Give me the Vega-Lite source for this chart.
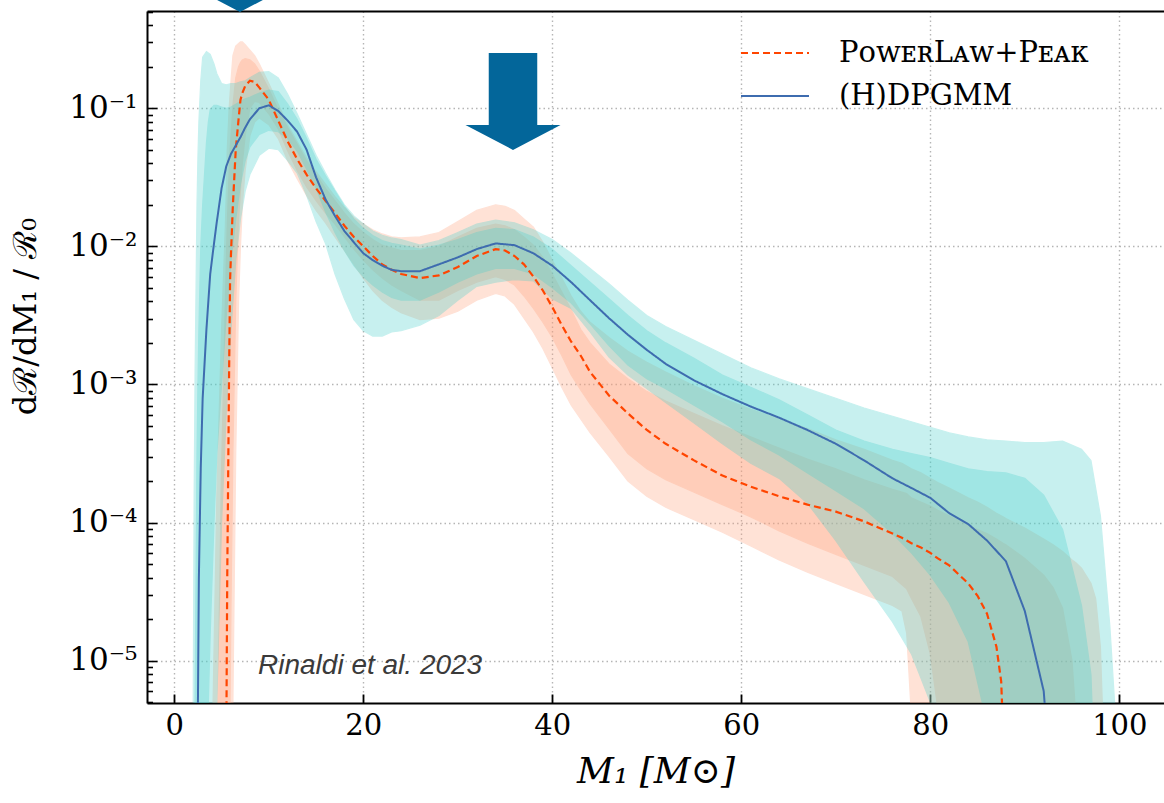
{
  "$schema": "https://vega.github.io/schema/vega-lite/v6.json",
  "width": 1017,
  "height": 692,
  "autosize": {"type": "none"},
  "padding": {"left": 147, "top": 11, "right": 0, "bottom": 100},
  "background": "white",
  "config": {"view": {"stroke": null}, "font": "DejaVu Serif"},
  "datasets": {
    "dp": [
      {"M":1.9,"med":1e-7,"lo50":1e-7,"hi50":1e-7,"lo90":1e-7,"hi90":1e-7},
      {"M":2.0,"med":1e-7,"lo50":1e-7,"hi50":1e-7,"lo90":1e-7,"hi90":5.01e-6},
      {"M":2.1,"med":1e-7,"lo50":1e-7,"hi50":1e-7,"lo90":1e-7,"hi90":1.58e-4},
      {"M":2.2,"med":1e-7,"lo50":1e-7,"hi50":5.01e-6,"lo90":1e-7,"hi90":1.26e-3},
      {"M":2.4,"med":1e-6,"lo50":1e-7,"hi50":3.16e-4,"lo90":1e-7,"hi90":2.0e-2},
      {"M":2.5,"med":5.01e-6,"lo50":1e-7,"hi50":1e-3,"lo90":1e-7,"hi90":4.47e-2},
      {"M":2.6,"med":3.98e-5,"lo50":1e-7,"hi50":2.51e-3,"lo90":1e-7,"hi90":7.94e-2},
      {"M":2.8,"med":2.51e-4,"lo50":1e-7,"hi50":1e-2,"lo90":1e-7,"hi90":0.158},
      {"M":3.0,"med":7.94e-4,"lo50":1e-7,"hi50":2.0e-2,"lo90":1e-7,"hi90":0.234},
      {"M":3.4,"med":2.51e-3,"lo50":1e-7,"hi50":5.62e-2,"lo90":1e-7,"hi90":0.257},
      {"M":3.6,"med":3.98e-3,"lo50":5.01e-6,"hi50":7.94e-2,"lo90":1e-7,"hi90":0.251},
      {"M":3.8,"med":6.31e-3,"lo50":1.58e-5,"hi50":9.77e-2,"lo90":1e-7,"hi90":0.245},
      {"M":4.2,"med":1.05e-2,"lo50":1e-4,"hi50":0.105,"lo90":1e-7,"hi90":0.209},
      {"M":4.5,"med":1.51e-2,"lo50":3.16e-4,"hi50":0.105,"lo90":5.01e-6,"hi90":0.178},
      {"M":5.0,"med":2.63e-2,"lo50":1e-3,"hi50":0.102,"lo90":1e-4,"hi90":0.151},
      {"M":5.5,"med":3.80e-2,"lo50":3.16e-3,"hi50":0.1,"lo90":6.31e-4,"hi90":0.148},
      {"M":6.0,"med":4.68e-2,"lo50":7.94e-3,"hi50":0.102,"lo90":2.51e-3,"hi90":0.151},
      {"M":6.5,"med":5.37e-2,"lo50":1.58e-2,"hi50":0.107,"lo90":7.94e-3,"hi90":0.151},
      {"M":7.0,"med":6.17e-2,"lo50":2.82e-2,"hi50":0.112,"lo90":1.58e-2,"hi90":0.155},
      {"M":7.5,"med":7.24e-2,"lo50":4.17e-2,"hi50":0.117,"lo90":2.51e-2,"hi90":0.158},
      {"M":8,"med":8.32e-2,"lo50":5.25e-2,"hi50":0.120,"lo90":3.31e-2,"hi90":0.166},
      {"M":9,"med":0.1,"lo50":6.46e-2,"hi50":0.129,"lo90":4.57e-2,"hi90":0.182},
      {"M":10,"med":0.105,"lo50":6.92e-2,"hi50":0.135,"lo90":5.13e-2,"hi90":0.184},
      {"M":11,"med":9.55e-2,"lo50":6.76e-2,"hi50":0.132,"lo90":5.01e-2,"hi90":0.166},
      {"M":12,"med":8.13e-2,"lo50":6.03e-2,"hi50":0.107,"lo90":4.17e-2,"hi90":0.126},
      {"M":13,"med":6.76e-2,"lo50":4.90e-2,"hi50":8.32e-2,"lo90":3.39e-2,"hi90":9.12e-2},
      {"M":14,"med":5.01e-2,"lo50":3.63e-2,"hi50":6.03e-2,"lo90":2.34e-2,"hi90":6.46e-2},
      {"M":15,"med":3.16e-2,"lo50":2.63e-2,"hi50":4.27e-2,"lo90":1.51e-2,"hi90":4.57e-2},
      {"M":16,"med":2.19e-2,"lo50":1.78e-2,"hi50":3.24e-2,"lo90":1.05e-2,"hi90":3.39e-2},
      {"M":17,"med":1.66e-2,"lo50":1.26e-2,"hi50":2.51e-2,"lo90":6.31e-3,"hi90":2.57e-2},
      {"M":18,"med":1.29e-2,"lo50":9.33e-3,"hi50":1.95e-2,"lo90":4.17e-3,"hi90":2.0e-2},
      {"M":19,"med":1.07e-2,"lo50":7.24e-3,"hi50":1.58e-2,"lo90":2.95e-3,"hi90":1.66e-2},
      {"M":20,"med":8.91e-3,"lo50":6.03e-3,"hi50":1.35e-2,"lo90":2.45e-3,"hi90":1.45e-2},
      {"M":21,"med":7.94e-3,"lo50":5.25e-3,"hi50":1.20e-2,"lo90":2.24e-3,"hi90":1.29e-2},
      {"M":22,"med":7.24e-3,"lo50":4.68e-3,"hi50":1.10e-2,"lo90":2.24e-3,"hi90":1.20e-2},
      {"M":23,"med":6.76e-3,"lo50":4.27e-3,"hi50":1.05e-2,"lo90":2.40e-3,"hi90":1.15e-2},
      {"M":24,"med":6.61e-3,"lo50":4.07e-3,"hi50":1.02e-2,"lo90":2.45e-3,"hi90":1.12e-2},
      {"M":26,"med":6.61e-3,"lo50":4.07e-3,"hi50":9.55e-3,"lo90":2.69e-3,"hi90":1.02e-2},
      {"M":28,"med":7.41e-3,"lo50":4.68e-3,"hi50":1.02e-2,"lo90":3.16e-3,"hi90":1.10e-2},
      {"M":30,"med":8.32e-3,"lo50":5.50e-3,"hi50":1.12e-2,"lo90":4.07e-3,"hi90":1.26e-2},
      {"M":32,"med":9.55e-3,"lo50":6.31e-3,"hi50":1.26e-2,"lo90":5.13e-3,"hi90":1.45e-2},
      {"M":34,"med":1.05e-2,"lo50":6.92e-3,"hi50":1.35e-2,"lo90":5.50e-3,"hi90":1.55e-2},
      {"M":36,"med":1.02e-2,"lo50":6.92e-3,"hi50":1.32e-2,"lo90":5.75e-3,"hi90":1.48e-2},
      {"M":38,"med":8.91e-3,"lo50":6.31e-3,"hi50":1.17e-2,"lo90":5.62e-3,"hi90":1.32e-2},
      {"M":40,"med":7.24e-3,"lo50":5.01e-3,"hi50":9.55e-3,"lo90":4.17e-3,"hi90":1.12e-2},
      {"M":42,"med":5.50e-3,"lo50":3.89e-3,"hi50":7.24e-3,"lo90":3.55e-3,"hi90":8.91e-3},
      {"M":44,"med":4.07e-3,"lo50":2.75e-3,"hi50":5.50e-3,"lo90":2.40e-3,"hi90":6.92e-3},
      {"M":46,"med":3.02e-3,"lo50":1.91e-3,"hi50":4.17e-3,"lo90":1.58e-3,"hi90":5.37e-3},
      {"M":48,"med":2.29e-3,"lo50":1.38e-3,"hi50":3.16e-3,"lo90":1.17e-3,"hi90":4.07e-3},
      {"M":50,"med":1.78e-3,"lo50":1.10e-3,"hi50":2.45e-3,"lo90":9.33e-4,"hi90":3.16e-3},
      {"M":52,"med":1.41e-3,"lo50":9.33e-4,"hi50":2.0e-3,"lo90":7.41e-4,"hi90":2.63e-3},
      {"M":55,"med":1.07e-3,"lo50":7.08e-4,"hi50":1.55e-3,"lo90":5.25e-4,"hi90":2.09e-3},
      {"M":58,"med":8.51e-4,"lo50":5.37e-4,"hi50":1.17e-3,"lo90":3.72e-4,"hi90":1.66e-3},
      {"M":61,"med":6.92e-4,"lo50":3.98e-4,"hi50":9.55e-4,"lo90":2.69e-4,"hi90":1.32e-3},
      {"M":64,"med":5.75e-4,"lo50":3.09e-4,"hi50":7.76e-4,"lo90":2.09e-4,"hi90":1.10e-3},
      {"M":67,"med":4.68e-4,"lo50":2.29e-4,"hi50":6.03e-4,"lo90":1.38e-4,"hi90":9.33e-4},
      {"M":70,"med":3.72e-4,"lo50":1.70e-4,"hi50":4.68e-4,"lo90":7.41e-5,"hi90":7.94e-4},
      {"M":73,"med":2.82e-4,"lo50":1.26e-4,"hi50":3.89e-4,"lo90":3.72e-5,"hi90":6.76e-4},
      {"M":76,"med":2.09e-4,"lo50":8.32e-5,"hi50":3.39e-4,"lo90":1.91e-5,"hi90":5.89e-4},
      {"M":78,"med":1.78e-4,"lo50":6.03e-5,"hi50":3.16e-4,"lo90":1.12e-5,"hi90":5.37e-4},
      {"M":80,"med":1.51e-4,"lo50":4.17e-5,"hi50":2.95e-4,"lo90":5.01e-6,"hi90":4.90e-4},
      {"M":82,"med":1.17e-4,"lo50":2.63e-5,"hi50":2.69e-4,"lo90":1e-7,"hi90":4.47e-4},
      {"M":84,"med":9.77e-5,"lo50":1.38e-5,"hi50":2.45e-4,"lo90":1e-7,"hi90":4.17e-4},
      {"M":86,"med":7.41e-5,"lo50":3.55e-6,"hi50":2.34e-4,"lo90":1e-7,"hi90":3.98e-4},
      {"M":88,"med":5.25e-5,"lo50":1e-7,"hi50":2.29e-4,"lo90":1e-7,"hi90":3.89e-4},
      {"M":90,"med":2.29e-5,"lo50":1e-7,"hi50":2.09e-4,"lo90":1e-7,"hi90":3.80e-4},
      {"M":92,"med":6.03e-6,"lo50":1e-7,"hi50":1.58e-4,"lo90":1e-7,"hi90":3.80e-4},
      {"M":94,"med":1e-7,"lo50":1e-7,"hi50":8.91e-5,"lo90":1e-7,"hi90":3.89e-4},
      {"M":96,"med":1e-7,"lo50":1e-7,"hi50":2.51e-5,"lo90":1e-7,"hi90":3.39e-4},
      {"M":97,"med":1e-7,"lo50":1e-7,"hi50":7.94e-6,"lo90":1e-7,"hi90":2.82e-4},
      {"M":98,"med":1e-7,"lo50":1e-7,"hi50":1e-7,"lo90":1e-7,"hi90":1.12e-4},
      {"M":99,"med":1e-7,"lo50":1e-7,"hi50":1e-7,"lo90":1e-7,"hi90":1.78e-5},
      {"M":99.5,"med":1e-7,"lo50":1e-7,"hi50":1e-7,"lo90":1e-7,"hi90":5.01e-6},
      {"M":100,"med":1e-7,"lo50":1e-7,"hi50":1e-7,"lo90":1e-7,"hi90":1e-7}
    ],
    "plp": [
      {"M":4.0,"med":1e-7,"lo50":1e-7,"hi50":1e-7,"lo90":1e-7,"hi90":1e-7},
      {"M":4.1,"med":1e-7,"lo50":1e-7,"hi50":1e-7,"lo90":1e-7,"hi90":5.01e-6},
      {"M":4.5,"med":1e-7,"lo50":1e-7,"hi50":1.58e-6,"lo90":1e-7,"hi90":1.58e-4},
      {"M":5.0,"med":1e-7,"lo50":1e-7,"hi50":2.51e-4,"lo90":1e-7,"hi90":2.51e-3},
      {"M":5.4,"med":1e-7,"lo50":1e-7,"hi50":3.98e-3,"lo90":1e-7,"hi90":1.41e-2},
      {"M":5.5,"med":2.51e-6,"lo50":1e-7,"hi50":7.94e-3,"lo90":1e-7,"hi90":2.51e-2},
      {"M":5.6,"med":3.98e-5,"lo50":1e-7,"hi50":1.41e-2,"lo90":1e-7,"hi90":5.01e-2},
      {"M":5.8,"med":1.26e-3,"lo50":1e-7,"hi50":3.55e-2,"lo90":1e-7,"hi90":0.1},
      {"M":5.9,"med":5.62e-3,"lo50":5.01e-6,"hi50":5.01e-2,"lo90":1e-7,"hi90":0.126},
      {"M":6.0,"med":8.91e-3,"lo50":2.51e-5,"hi50":6.31e-2,"lo90":1e-7,"hi90":0.158},
      {"M":6.2,"med":2.0e-2,"lo50":3.16e-4,"hi50":0.105,"lo90":5.01e-6,"hi90":0.240},
      {"M":6.5,"med":5.01e-2,"lo50":3.98e-3,"hi50":0.166,"lo90":3.16e-4,"hi90":0.282},
      {"M":6.8,"med":8.32e-2,"lo50":1.58e-2,"hi50":0.2,"lo90":3.98e-3,"hi90":0.295},
      {"M":7.0,"med":0.115,"lo50":2.51e-2,"hi50":0.214,"lo90":1e-2,"hi90":0.302},
      {"M":7.2,"med":0.129,"lo50":3.98e-2,"hi50":0.224,"lo90":2.0e-2,"hi90":0.302},
      {"M":7.5,"med":0.145,"lo50":6.31e-2,"hi50":0.229,"lo90":3.55e-2,"hi90":0.288},
      {"M":8,"med":0.158,"lo50":0.1,"hi50":0.224,"lo90":6.31e-2,"hi90":0.263},
      {"M":8.5,"med":0.155,"lo50":0.112,"hi50":0.209,"lo90":7.94e-2,"hi90":0.240},
      {"M":9,"med":0.141,"lo50":0.110,"hi50":0.186,"lo90":8.51e-2,"hi90":0.209},
      {"M":10,"med":0.115,"lo50":9.12e-2,"hi50":0.138,"lo90":7.59e-2,"hi90":0.151},
      {"M":11,"med":8.13e-2,"lo50":7.08e-2,"hi50":9.77e-2,"lo90":6.03e-2,"hi90":0.107},
      {"M":12,"med":5.75e-2,"lo50":4.90e-2,"hi50":7.24e-2,"lo90":4.17e-2,"hi90":7.59e-2},
      {"M":13,"med":4.27e-2,"lo50":3.55e-2,"hi50":5.50e-2,"lo90":3.09e-2,"hi90":5.75e-2},
      {"M":14,"med":3.31e-2,"lo50":2.69e-2,"hi50":4.17e-2,"lo90":2.34e-2,"hi90":4.37e-2},
      {"M":15,"med":2.63e-2,"lo50":2.14e-2,"hi50":3.31e-2,"lo90":1.82e-2,"hi90":3.47e-2},
      {"M":16,"med":2.14e-2,"lo50":1.74e-2,"hi50":2.63e-2,"lo90":1.48e-2,"hi90":2.82e-2},
      {"M":17,"med":1.74e-2,"lo50":1.45e-2,"hi50":2.14e-2,"lo90":1.17e-2,"hi90":2.29e-2},
      {"M":18,"med":1.41e-2,"lo50":1.17e-2,"hi50":1.74e-2,"lo90":9.33e-3,"hi90":1.91e-2},
      {"M":19,"med":1.17e-2,"lo50":9.55e-3,"hi50":1.45e-2,"lo90":7.41e-3,"hi90":1.62e-2},
      {"M":20,"med":1e-2,"lo50":7.94e-3,"hi50":1.26e-2,"lo90":5.89e-3,"hi90":1.45e-2},
      {"M":21,"med":8.51e-3,"lo50":6.76e-3,"hi50":1.12e-2,"lo90":4.79e-3,"hi90":1.32e-2},
      {"M":22,"med":7.41e-3,"lo50":5.89e-3,"hi50":1.02e-2,"lo90":4.07e-3,"hi90":1.23e-2},
      {"M":23,"med":6.76e-3,"lo50":5.25e-3,"hi50":9.77e-3,"lo90":3.63e-3,"hi90":1.17e-2},
      {"M":24,"med":6.31e-3,"lo50":4.79e-3,"hi50":9.33e-3,"lo90":3.31e-3,"hi90":1.15e-2},
      {"M":26,"med":5.89e-3,"lo50":4.07e-3,"hi50":9.33e-3,"lo90":2.95e-3,"hi90":1.17e-2},
      {"M":28,"med":6.17e-3,"lo50":4.07e-3,"hi50":1e-2,"lo90":3.02e-3,"hi90":1.26e-2},
      {"M":30,"med":7.08e-3,"lo50":4.79e-3,"hi50":1.17e-2,"lo90":3.39e-3,"hi90":1.51e-2},
      {"M":32,"med":8.51e-3,"lo50":5.50e-3,"hi50":1.35e-2,"lo90":4.07e-3,"hi90":1.82e-2},
      {"M":34,"med":9.55e-3,"lo50":6.03e-3,"hi50":1.45e-2,"lo90":4.57e-3,"hi90":2.0e-2},
      {"M":35,"med":9.33e-3,"lo50":5.75e-3,"hi50":1.41e-2,"lo90":4.37e-3,"hi90":1.95e-2},
      {"M":36,"med":8.51e-3,"lo50":5.25e-3,"hi50":1.32e-2,"lo90":3.80e-3,"hi90":1.82e-2},
      {"M":37,"med":7.41e-3,"lo50":4.37e-3,"hi50":1.17e-2,"lo90":3.02e-3,"hi90":1.58e-2},
      {"M":38,"med":6.03e-3,"lo50":3.55e-3,"hi50":1.02e-2,"lo90":2.40e-3,"hi90":1.38e-2},
      {"M":39,"med":4.79e-3,"lo50":2.82e-3,"hi50":8.32e-3,"lo90":1.82e-3,"hi90":1.07e-2},
      {"M":40,"med":3.63e-3,"lo50":2.19e-3,"hi50":6.31e-3,"lo90":1.32e-3,"hi90":7.94e-3},
      {"M":41,"med":2.69e-3,"lo50":1.62e-3,"hi50":4.68e-3,"lo90":9.55e-4,"hi90":5.89e-3},
      {"M":42,"med":2.04e-3,"lo50":1.17e-3,"hi50":3.47e-3,"lo90":7.08e-4,"hi90":4.37e-3},
      {"M":43,"med":1.62e-3,"lo50":9.12e-4,"hi50":2.51e-3,"lo90":5.62e-4,"hi90":3.39e-3},
      {"M":44,"med":1.23e-3,"lo50":7.24e-4,"hi50":2.0e-3,"lo90":4.47e-4,"hi90":2.82e-3},
      {"M":46,"med":8.32e-4,"lo50":4.79e-4,"hi50":1.41e-3,"lo90":3.02e-4,"hi90":2.19e-3},
      {"M":48,"med":6.17e-4,"lo50":3.16e-4,"hi50":1.10e-3,"lo90":2.0e-4,"hi90":1.74e-3},
      {"M":50,"med":4.68e-4,"lo50":2.45e-4,"hi50":8.91e-4,"lo90":1.55e-4,"hi90":1.45e-3},
      {"M":52,"med":3.72e-4,"lo50":2.04e-4,"hi50":7.59e-4,"lo90":1.29e-4,"hi90":1.23e-3},
      {"M":55,"med":2.82e-4,"lo50":1.66e-4,"hi50":6.17e-4,"lo90":1.05e-4,"hi90":9.77e-4},
      {"M":58,"med":2.19e-4,"lo50":1.35e-4,"hi50":5.01e-4,"lo90":8.51e-5,"hi90":7.94e-4},
      {"M":61,"med":1.82e-4,"lo50":1.10e-4,"hi50":4.17e-4,"lo90":6.76e-5,"hi90":6.61e-4},
      {"M":64,"med":1.55e-4,"lo50":8.71e-5,"hi50":3.47e-4,"lo90":5.37e-5,"hi90":5.62e-4},
      {"M":67,"med":1.35e-4,"lo50":7.08e-5,"hi50":2.88e-4,"lo90":4.37e-5,"hi90":4.79e-4},
      {"M":70,"med":1.20e-4,"lo50":5.89e-5,"hi50":2.45e-4,"lo90":3.63e-5,"hi90":3.98e-4},
      {"M":73,"med":1.02e-4,"lo50":4.90e-5,"hi50":2.04e-4,"lo90":3.02e-5,"hi90":3.39e-4},
      {"M":76,"med":8.32e-5,"lo50":4.07e-5,"hi50":1.74e-4,"lo90":2.51e-5,"hi90":2.82e-4},
      {"M":77,"med":7.76e-5,"lo50":3.55e-5,"hi50":1.66e-4,"lo90":2.29e-5,"hi90":2.69e-4},
      {"M":77.5,"med":7.41e-5,"lo50":3.31e-5,"hi50":1.62e-4,"lo90":1.58e-5,"hi90":2.57e-4},
      {"M":78,"med":7.08e-5,"lo50":2.82e-5,"hi50":1.51e-4,"lo90":3.98e-6,"hi90":2.45e-4},
      {"M":79,"med":6.61e-5,"lo50":2.09e-5,"hi50":1.41e-4,"lo90":1e-7,"hi90":2.29e-4},
      {"M":80,"med":6.03e-5,"lo50":1.12e-5,"hi50":1.32e-4,"lo90":1e-7,"hi90":2.09e-4},
      {"M":80.8,"med":5.50e-5,"lo50":4.47e-6,"hi50":1.23e-4,"lo90":1e-7,"hi90":1.95e-4},
      {"M":82,"med":4.90e-5,"lo50":1e-7,"hi50":1.12e-4,"lo90":1e-7,"hi90":1.78e-4},
      {"M":84,"med":3.63e-5,"lo50":1e-7,"hi50":9.55e-5,"lo90":1e-7,"hi90":1.51e-4},
      {"M":85,"med":2.95e-5,"lo50":1e-7,"hi50":8.91e-5,"lo90":1e-7,"hi90":1.41e-4},
      {"M":86,"med":2.19e-5,"lo50":1e-7,"hi50":8.32e-5,"lo90":1e-7,"hi90":1.29e-4},
      {"M":87,"med":1.26e-5,"lo50":1e-7,"hi50":7.59e-5,"lo90":1e-7,"hi90":1.17e-4},
      {"M":87.5,"med":7.08e-6,"lo50":1e-7,"hi50":7.24e-5,"lo90":1e-7,"hi90":1.12e-4},
      {"M":87.7,"med":3.16e-6,"lo50":1e-7,"hi50":7.08e-5,"lo90":1e-7,"hi90":1.10e-4},
      {"M":88,"med":1e-7,"lo50":1e-7,"hi50":6.92e-5,"lo90":1e-7,"hi90":1.07e-4},
      {"M":90,"med":1e-7,"lo50":1e-7,"hi50":5.50e-5,"lo90":1e-7,"hi90":9.12e-5},
      {"M":92,"med":1e-7,"lo50":1e-7,"hi50":4.17e-5,"lo90":1e-7,"hi90":7.59e-5},
      {"M":93,"med":1e-7,"lo50":1e-7,"hi50":3.39e-5,"lo90":1e-7,"hi90":6.92e-5},
      {"M":94,"med":1e-7,"lo50":1e-7,"hi50":2.40e-5,"lo90":1e-7,"hi90":6.17e-5},
      {"M":95,"med":1e-7,"lo50":1e-7,"hi50":1e-5,"lo90":1e-7,"hi90":5.37e-5},
      {"M":95.4,"med":1e-7,"lo50":1e-7,"hi50":3.98e-6,"lo90":1e-7,"hi90":5.13e-5},
      {"M":96,"med":1e-7,"lo50":1e-7,"hi50":1e-7,"lo90":1e-7,"hi90":4.68e-5},
      {"M":97,"med":1e-7,"lo50":1e-7,"hi50":1e-7,"lo90":1e-7,"hi90":3.63e-5},
      {"M":97.5,"med":1e-7,"lo50":1e-7,"hi50":1e-7,"lo90":1e-7,"hi90":2.82e-5},
      {"M":98,"med":1e-7,"lo50":1e-7,"hi50":1e-7,"lo90":1e-7,"hi90":1.26e-5},
      {"M":98.3,"med":1e-7,"lo50":1e-7,"hi50":1e-7,"lo90":1e-7,"hi90":3.16e-6},
      {"M":99,"med":1e-7,"lo50":1e-7,"hi50":1e-7,"lo90":1e-7,"hi90":1e-7}
    ]
  },
  "resolve": {"axis": {"x": "independent", "y": "independent"}},
  "layer": [
    {
      "data": {"name": "plp"},
      "mark": {"type": "area", "clip": true, "color": "#FFA07A", "opacity": 0.3, "stroke": "#FFA07A", "strokeWidth": 1.2},
      "encoding": {
        "x": {"field": "M", "type": "quantitative", "scale": {"domain": [-2.89, 104.73], "nice": false, "zero": false},
          "axis": {"orient": "bottom", "values": [0, 20, 40, 60, 80, 100], "format": "d", "tickSize": -9, "tickWidth": 1.8, "tickColor": "black",
            "domainColor": "black", "domainWidth": 2, "labelFont": "DejaVu Serif", "labelFontSize": 29, "labelColor": "black", "labelPadding": 17,
            "labelFlush": false, "labelOverlap": false, "grid": true, "gridColor": "#b5b5b5", "gridDash": [1.5, 3], "gridWidth": 1.4,
            "title": "M₁  [M⊙]", "titleFont": "DejaVu Serif", "titleFontStyle": "italic", "titleFontWeight": "normal", "titleFontSize": 36, "titleColor": "black", "titlePadding": 14}},
        "y": {"field": "lo90", "type": "quantitative", "scale": {"type": "log", "domain": [4.94e-6, 0.5058], "nice": false},
          "axis": {"orient": "left",
            "values": [1e-5, 1e-4, 1e-3, 1e-2, 0.1],
            "labelExpr": "datum.value == 0.1 ? '10⁻¹' : datum.value == 0.01 ? '10⁻²' : datum.value == 0.001 ? '10⁻³' : datum.value == 0.0001 ? '10⁻⁴' : '10⁻⁵'",
            "tickSize": -10, "tickWidth": 1.6, "tickColor": "black", "domainColor": "black", "domainWidth": 2,
            "labelFont": "DejaVu Serif", "labelFontSize": 31, "labelColor": "black", "labelPadding": 20, "labelOverlap": false, "labelFlush": false,
            "grid": true, "gridColor": "#b5b5b5", "gridDash": [1.5, 3], "gridWidth": 1.4,
            "title": "dℛ/dM₁ / ℛ₀", "titleFont": "DejaVu Serif", "titleFontWeight": "normal", "titleFontSize": 32, "titleColor": "black",
            "titleX": -122, "titleY": 305, "titleBaseline": "middle", "titleAngle": -90}},
        "y2": {"field": "hi90"}
      }
    },
    {
      "data": {"name": "plp"},
      "mark": {"type": "area", "clip": true, "color": "#FFA07A", "opacity": 0.3, "stroke": "#FFA07A", "strokeWidth": 1.2},
      "encoding": {
        "x": {"field": "M", "type": "quantitative", "scale": {"domain": [-2.89, 104.73], "nice": false, "zero": false}, "axis": null},
        "y": {"field": "lo50", "type": "quantitative", "scale": {"type": "log", "domain": [4.94e-6, 0.5058], "nice": false}, "axis": null},
        "y2": {"field": "hi50"}
      }
    },
    {
      "data": {"name": "dp"},
      "mark": {"type": "area", "clip": true, "color": "#48D1CC", "opacity": 0.3, "stroke": "#48D1CC", "strokeWidth": 1.2},
      "encoding": {
        "x": {"field": "M", "type": "quantitative", "scale": {"domain": [-2.89, 104.73], "nice": false, "zero": false}, "axis": null},
        "y": {"field": "lo90", "type": "quantitative", "scale": {"type": "log", "domain": [4.94e-6, 0.5058], "nice": false}, "axis": null},
        "y2": {"field": "hi90"}
      }
    },
    {
      "data": {"name": "dp"},
      "mark": {"type": "area", "clip": true, "color": "#48D1CC", "opacity": 0.3, "stroke": "#48D1CC", "strokeWidth": 1.2},
      "encoding": {
        "x": {"field": "M", "type": "quantitative", "scale": {"domain": [-2.89, 104.73], "nice": false, "zero": false}, "axis": null},
        "y": {"field": "lo50", "type": "quantitative", "scale": {"type": "log", "domain": [4.94e-6, 0.5058], "nice": false}, "axis": null},
        "y2": {"field": "hi50"}
      }
    },
    {
      "data": {"name": "plp"},
      "mark": {"type": "line", "clip": true, "strokeWidth": 2.2, "strokeDash": [7, 4]},
      "encoding": {
        "x": {"field": "M", "type": "quantitative", "scale": {"domain": [-2.89, 104.73], "nice": false, "zero": false}, "axis": null},
        "y": {"field": "med", "type": "quantitative", "scale": {"type": "log", "domain": [4.94e-6, 0.5058], "nice": false}, "axis": null},
        "color": {"datum": "PowerLaw+Peak", "type": "nominal",
          "scale": {"domain": ["PowerLaw+Peak"], "range": ["#FF4500"]},
          "legend": {"title": null, "orient": "none", "legendX": 593, "legendY": 7, "symbolType": "stroke", "symbolSize": 4624, "symbolStrokeWidth": 2,
            "labelFont": "DejaVu Serif", "labelFontSize": 29, "labelColor": "black", "labelOffset": 29, "labelLimit": 0, "padding": 0,
            "labelExpr": "datum.label == 'PowerLaw+Peak' ? 'PᴏᴡᴇʀLᴀᴡ+Pᴇᴀᴋ' : datum.label",
            "encode": {"symbols": {"update": {"strokeDash": {"value": [7, 4]}}}}}}
      }
    },
    {
      "data": {"name": "dp"},
      "mark": {"type": "line", "clip": true, "strokeWidth": 2, "color": "#3E6CAF"},
      "encoding": {
        "x": {"field": "M", "type": "quantitative", "scale": {"domain": [-2.89, 104.73], "nice": false, "zero": false}, "axis": null},
        "y": {"field": "med", "type": "quantitative", "scale": {"type": "log", "domain": [4.94e-6, 0.5058], "nice": false}, "axis": null},
        "strokeDash": {"datum": "(H)DPGMM", "type": "nominal",
          "scale": {"domain": ["(H)DPGMM"], "range": [[1, 0]]},
          "legend": {"title": null, "orient": "none", "legendX": 593, "legendY": 50, "symbolType": "stroke", "symbolSize": 4624, "symbolStrokeWidth": 2,
            "symbolStrokeColor": "#3E6CAF",
            "labelFont": "DejaVu Serif", "labelFontSize": 29, "labelColor": "black", "labelOffset": 29, "labelLimit": 0, "padding": 0}}
      }
    },
    {
      "data": {"values": [{"M": 35.84, "rate": 0.112}, {"M": 6.95, "rate": 1.116}]},
      "mark": {"type": "point", "shape": "M-0.5,-1L0.5,-1L0.5,0.485L0.98,0.485L0,1L-0.98,0.485L-0.5,0.485Z", "size": 9409, "filled": true, "color": "#03669A", "opacity": 1, "strokeWidth": 0},
      "encoding": {
        "x": {"field": "M", "type": "quantitative", "scale": {"domain": [-2.89, 104.73], "nice": false, "zero": false},
          "axis": {"orient": "top", "labels": false, "ticks": false, "grid": false, "domainColor": "black", "domainWidth": 2, "title": null}},
        "y": {"field": "rate", "type": "quantitative", "scale": {"type": "log", "domain": [4.94e-6, 0.5058], "nice": false}, "axis": null}
      }
    },
    {
      "data": {"values": [{"M": 8.86, "rate": 8.0e-6, "label": "Rinaldi et al. 2023"}]},
      "mark": {"type": "text", "align": "left", "baseline": "alphabetic", "font": "Liberation Sans", "fontStyle": "italic", "fontSize": 28, "color": "#3a3a3a"},
      "encoding": {
        "x": {"field": "M", "type": "quantitative", "scale": {"domain": [-2.89, 104.73], "nice": false, "zero": false}, "axis": null},
        "y": {"field": "rate", "type": "quantitative", "scale": {"type": "log", "domain": [4.94e-6, 0.5058], "nice": false},
          "axis": {"orient": "left",
            "values": [5e-6, 6e-6, 7e-6, 8e-6, 9e-6, 2e-5, 3e-5, 4e-5, 5e-5, 6e-5, 7e-5, 8e-5, 9e-5, 2e-4, 3e-4, 4e-4, 5e-4, 6e-4, 7e-4, 8e-4, 9e-4, 2e-3, 3e-3, 4e-3, 5e-3, 6e-3, 7e-3, 8e-3, 9e-3, 2e-2, 3e-2, 4e-2, 5e-2, 6e-2, 7e-2, 8e-2, 9e-2, 0.2, 0.3, 0.4, 0.5],
            "labels": false, "domain": false, "grid": false, "title": null, "tickSize": -5.5, "tickWidth": 1.6, "tickColor": "black"}},
        "text": {"field": "label"}
      }
    }
  ]
}
